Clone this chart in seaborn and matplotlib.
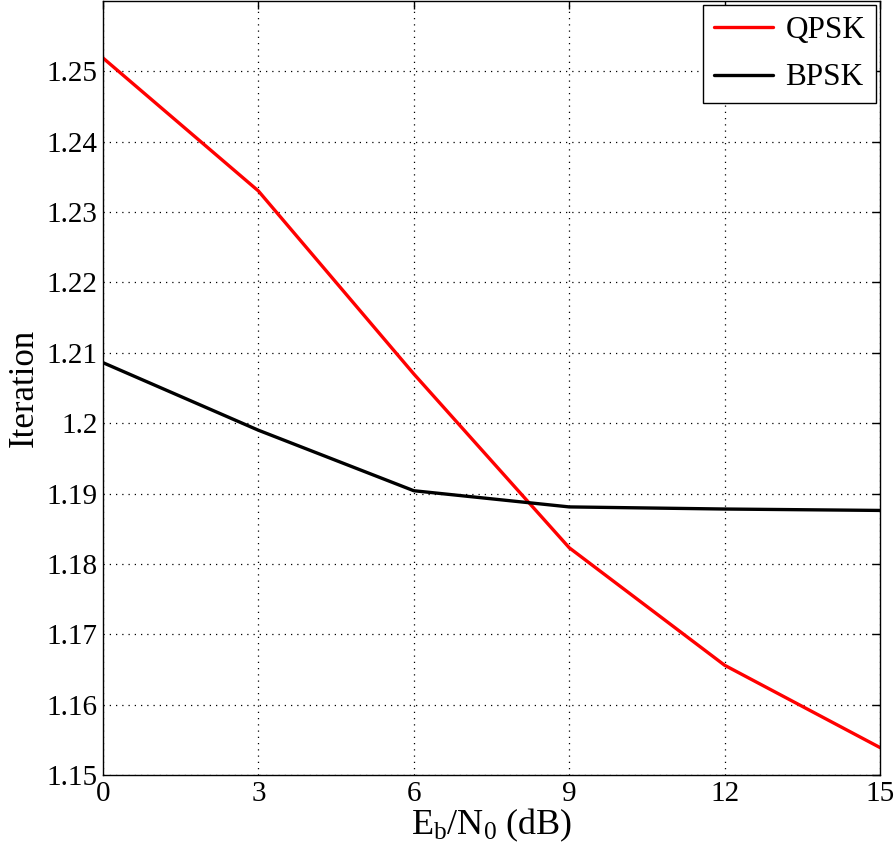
import matplotlib
matplotlib.use("Agg")
import matplotlib.pyplot as plt
import seaborn as sns
import pandas as pd

# values
ebn0_db = [0, 3, 6, 9, 12, 15]
qpsk_iter = [1.2519, 1.2330, 1.2070, 1.1823, 1.1656, 1.1539]
bpsk_iter = [1.2086, 1.1990, 1.1904, 1.1881, 1.1878, 1.1876]
x_ticks = [0, 3, 6, 9, 12, 15]
y_ticks = [1.15, 1.16, 1.17, 1.18, 1.19, 1.20, 1.21, 1.22, 1.23, 1.24, 1.25]
y_tick_labels = ['1.15', '1.16', '1.17', '1.18', '1.19', '1.2', '1.21',
                 '1.22', '1.23', '1.24', '1.25']

df = pd.DataFrame({
    'EbN0': ebn0_db * 2,
    'Iteration': qpsk_iter + bpsk_iter,
    'Mod': ['QPSK'] * len(ebn0_db) + ['BPSK'] * len(ebn0_db),
})

sns.set_style('white')
plt.rcParams['font.family'] = ['Liberation Serif', 'DejaVu Serif']
plt.rcParams['mathtext.fontset'] = 'custom'
plt.rcParams['mathtext.rm'] = 'Liberation Serif'
plt.rcParams['mathtext.it'] = 'Liberation Serif'
plt.rcParams['text.color'] = 'black'
plt.rcParams['axes.labelcolor'] = 'black'

fig = plt.figure(figsize=(8.94, 8.58), dpi=100)
ax = fig.add_axes([103 / 894, 1 - 775 / 858, 777 / 894, 774 / 858])

sns.lineplot(data=df, x='EbN0', y='Iteration', hue='Mod',
             palette={'QPSK': '#ff0000', 'BPSK': 'black'},
             linewidth=2.4, ax=ax)

ax.set_xlim(0, 15)
ax.set_ylim(1.15, 1.26)
ax.set_xticks(x_ticks)
ax.set_yticks(y_ticks)
ax.set_yticklabels(y_tick_labels)
ax.tick_params(direction='in', top=True, right=True, length=6, width=1,
               labelsize=21, pad=4, colors='black', labelcolor='black')
ax.grid(True, linestyle=(0, (1, 4)), color='black', linewidth=0.9)
for sp in ax.spines.values():
    sp.set_color('black')
    sp.set_linewidth(1.0)

ax.set_xlabel(r'$\mathrm{E_b/N_0}$ (dB)', fontsize=26, labelpad=0)
ax.set_ylabel('Iteration', fontsize=25, labelpad=4)

leg = ax.legend(loc='upper right', fontsize=22.5, frameon=True, fancybox=False,
                borderaxespad=0.12, handlelength=1.9, borderpad=0.35,
                labelspacing=0.6, handletextpad=0.4)
leg.get_frame().set_edgecolor('black')
leg.get_frame().set_linewidth(1.0)
leg.get_frame().set_alpha(1)
for t in leg.get_texts():
    t.set_color('black')

fig.savefig('out.png', dpi=100)
